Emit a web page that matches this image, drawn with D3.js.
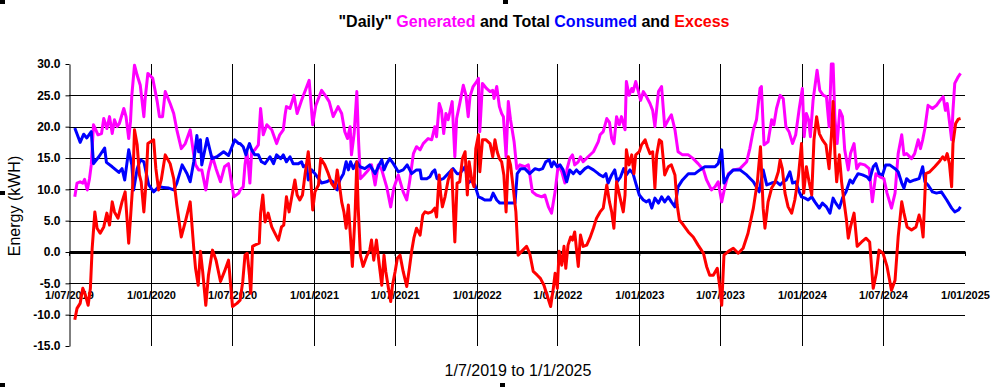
<!DOCTYPE html>
<html>
<head>
<meta charset="utf-8">
<script src="https://cdn.jsdelivr.net/npm/d3@7"></script>
<style>
  body { margin: 0; background: #fff; }
  svg { display: block; font-family: Arial, "Liberation Sans", sans-serif; }
</style>
</head>
<body>
<script>
// values; days are counted from 1/7/2019
const genDays = [13,18,25,31,35,41,46,50,55,59,65,73,78,85,91,97,102,108,113,123,128,134,138,141,147,153,160,168,171,177,188,198,203,210,216,227,235,242,252,261,272,280,284,291,298,307,313,322,330,340,349,358,370,381,
  384,391,395,399,402,406,410,417,425,430,436,444,455,466,473,481,485,488,496,505,512,522,532,539,547,554,567,577,584,593,604,612,619,625,631,634,640,646,650,654,662,672,679,687,694,702,713,722,729,739,750,758,765,773,780,
  788,795,806,814,821,825,831,836,841,846,851,860,866,870,877,885,891,896,900,907,915,919,922,928,937,945,951,954,960,966,971,975,981,986,991,999,1005,1012,1023,1031,1040,1049,1061,1068,1076,1083,1091,1098,1106,1113,1118,1124,1130,1135,1143,1148,1154,1165,1177,1188,
  1192,1199,1207,1213,1218,1223,1229,1235,1240,1248,1251,1257,1263,1266,1272,1278,1283,1289,1296,1304,1310,1315,1323,1330,1337,1345,1352,1360,1367,1377,1390,1401,1412,1424,1431,1442,1450,1457,1465,1472,1480,1491,1506,1521,1528,1536,1543,1551,1554,1560,1569,1577,1582,1588,
  1596,1603,1609,1616,1624,1631,1639,1646,1650,1655,1660,1664,1670,1679,1685,1693,1700,1706,1711,1715,1719,1724,1730,1736,1741,1749,1754,1762,1768,1775,1786,1796,1803,1811,1820,1829,1836,1846,1854,1861,1869,1874,1880,1891,1898,1906,1911,1916,1921,1928,1938,1947,1955,1962,1967,1971,1977,1981,1984,1988,1996,2001];
const genKwh = [8.8,11.0,11.2,11.0,11.6,9.9,11.7,13.9,20.3,19.7,18.7,18.9,21.3,19.7,21.6,18.9,21.1,20.0,20.5,22.9,21.6,18.1,20.8,25.0,29.8,28.2,26.6,21.6,24.5,28.5,27.7,24.0,21.6,21.6,25.6,23.7,22.1,19.5,16.5,17.3,19.5,15.5,13.9,13.1,13.1,9.9,12.8,15.2,13.3,11.2,13.6,14.1,8.8,9.4,
  9.9,10.4,13.9,16.0,14.4,11.0,16.0,16.3,17.1,22.9,18.7,20.3,19.5,17.3,18.7,19.5,21.9,23.2,22.9,25.0,22.1,24.2,26.1,27.4,20.3,23.4,25.8,24.8,24.0,21.6,23.2,22.1,19.2,18.1,20.0,15.5,18.9,25.6,17.6,11.7,12.3,13.1,13.9,10.7,13.9,13.1,10.4,7.2,10.2,12.3,9.6,8.3,11.5,15.7,16.8,
  16.3,17.3,18.1,17.9,20.0,18.4,23.7,22.6,18.9,22.1,21.1,24.0,15.2,21.3,23.7,26.6,25.0,21.6,24.8,26.4,27.2,27.7,19.2,26.9,26.1,25.6,25.8,24.5,26.4,23.2,22.1,21.6,15.2,24.0,21.1,17.6,13.3,13.9,13.6,13.9,9.6,9.1,8.8,9.1,7.2,6.2,9.6,13.9,12.8,11.0,13.3,14.9,15.5,13.9,14.4,15.2,14.4,15.2,16.0,17.6,
  18.7,19.2,21.3,20.7,18.1,17.3,21.6,20.3,21.6,19.5,27.2,25.0,26.1,25.6,27.2,25.6,24.2,25.6,24.8,23.7,22.6,20.0,25.6,26.4,20.0,21.1,21.9,19.5,16.0,15.5,15.5,14.9,14.1,13.1,11.5,9.9,10.4,11.2,8.0,10.4,12.5,13.1,13.3,14.4,16.5,19.5,21.1,26.1,26.4,17.1,17.6,21.1,20.3,22.9,
  25.0,24.5,20.0,19.2,17.3,18.7,22.9,26.1,18.4,22.1,21.1,18.4,24.2,29.0,25.8,25.0,24.8,20.0,30.0,30.0,21.3,17.3,22.6,21.6,16.3,13.1,15.7,17.3,13.3,14.1,13.9,13.3,8.0,12.5,12.0,11.7,9.4,7.0,9.4,15.7,18.7,15.5,15.7,14.9,15.7,17.9,16.5,17.9,19.7,23.4,22.9,23.4,24.2,24.8,22.6,23.7,20.3,17.9,22.6,26.9,28.0,28.5];

const conDays = [13,25,33,40,50,55,67,80,84,97,112,119,125,134,141,145,153,160,168,179,190,201,212,224,235,242,254,265,272,280,287,291,295,298,310,321,332,347,358,372,381,
  384,391,397,400,405,410,417,425,432,440,451,459,466,475,481,488,496,503,515,522,526,533,537,545,552,560,567,578,586,592,597,602,608,616,622,627,632,638,646,653,664,675,687,694,702,707,713,720,728,739,750,759,769,780,
  788,791,803,810,816,821,826,832,840,851,862,871,877,889,896,904,911,919,926,933,946,952,960,967,1001,1006,1014,1023,1034,1046,1055,1063,1070,1078,1083,1088,1096,1102,1109,1117,1124,1132,1139,1147,1158,1165,1177,1188,
  1192,1199,1205,1210,1218,1225,1230,1238,1245,1251,1259,1266,1272,1280,1289,1296,1302,1308,1315,1323,1330,1337,1345,1352,1360,1367,1377,1390,1405,1416,1427,1450,1457,1465,1470,1480,1491,1506,1521,1536,1549,1558,1566,1577,1588,
  1596,1603,1610,1618,1624,1631,1639,1644,1652,1659,1667,1674,1684,1691,1700,1708,1715,1721,1729,1736,1744,1753,1759,1764,1771,1781,1791,1797,1805,1811,1818,1826,1833,1842,1854,1861,1869,1874,1880,1887,1898,1908,1916,1921,1928,1938,1947,1958,1970,1981,1988,1996,2001];
const conKwh = [19.8,17.5,18.8,18.2,19.2,14.1,15.2,16.6,14.3,13.6,12.7,13.3,11.5,16.3,13.9,9.9,13.3,14.7,14.4,10.7,9.6,10.4,10.3,10.2,9.9,11.0,13.9,12.5,11.2,14.4,18.6,16.0,17.9,13.9,18.1,14.9,15.2,16.0,15.4,17.9,17.3,
  17.3,16.8,15.5,16.3,17.3,16.3,15.5,15.5,14.4,14.1,15.2,14.1,15.5,14.9,15.5,14.4,15.2,14.1,14.1,14.4,13.6,13.9,11.5,13.1,12.5,11.7,11.0,11.2,11.5,11.2,10.2,9.9,11.5,12.5,14.4,13.1,14.4,13.3,14.4,13.6,13.3,13.9,12.5,13.6,14.7,13.1,14.1,14.9,14.1,12.8,13.1,13.9,12.5,13.1,
  13.1,11.7,11.7,12.0,12.8,13.1,11.7,11.5,11.7,12.5,13.3,12.5,12.5,13.6,11.0,11.5,10.7,8.8,8.6,8.3,8.3,9.4,8.3,7.8,7.8,12.5,13.3,13.3,12.5,13.3,13.1,13.3,14.4,14.7,13.6,14.4,13.6,13.9,13.1,11.2,13.1,12.5,13.1,12.5,13.3,13.6,13.1,12.5,
  12.3,12.0,12.5,11.0,12.3,13.1,11.2,12.0,13.3,12.3,13.1,12.5,11.0,9.1,8.3,8.0,8.3,7.0,8.6,7.8,8.8,8.0,8.8,8.0,7.2,10.4,11.5,12.5,12.5,13.1,13.6,13.6,14.1,16.3,11.0,12.3,13.1,13.1,12.3,11.2,9.6,13.1,10.7,11.0,11.2,
  10.7,11.2,11.5,12.8,11.0,11.2,9.6,8.8,8.6,8.3,8.8,8.0,7.0,7.8,7.2,6.2,8.6,7.8,7.0,8.6,9.6,11.5,11.0,11.7,12.5,12.3,12.0,11.5,13.6,14.1,12.5,12.3,13.9,13.9,13.3,12.8,11.0,10.2,11.7,11.2,11.5,11.7,13.6,11.2,10.7,9.6,9.4,9.6,8.3,7.0,6.4,6.7,7.2];

const excDays = [13,18,25,31,37,43,48,52,58,63,70,78,85,91,97,102,110,119,126,134,138,143,147,153,158,162,168,173,177,190,195,201,207,216,227,235,242,252,261,272,280,284,290,295,300,307,313,322,330,340,349,358,367,377,
  384,390,395,400,405,408,412,417,427,430,435,440,447,455,462,470,477,482,488,494,500,507,512,518,524,530,537,542,547,552,560,565,574,582,589,597,602,607,612,617,622,627,631,636,642,646,649,654,660,668,675,679,684,690,696,702,707,711,717,722,726,732,737,743,750,758,764,769,774,780,
  788,794,799,806,814,821,825,831,834,838,844,851,859,866,871,877,883,889,894,898,904,909,913,919,922,928,936,945,951,956,961,966,971,976,981,986,991,997,1003,1008,1016,1027,1034,1042,1051,1058,1066,1073,1081,1087,1091,1096,1100,1106,1111,1115,1120,1126,1130,1135,1143,1148,1154,1162,1169,1177,1184,
  1192,1199,1207,1213,1218,1223,1229,1237,1244,1248,1251,1257,1263,1268,1272,1280,1285,1293,1298,1304,1310,1315,1319,1325,1330,1337,1345,1352,1360,1365,1370,1379,1390,1401,1412,1424,1431,1438,1446,1455,1461,1465,1470,1480,1491,1502,1513,1524,1536,1545,1552,1558,1562,1569,1577,1584,1592,
  1596,1601,1607,1614,1622,1629,1637,1644,1649,1655,1661,1667,1672,1678,1684,1691,1699,1706,1711,1715,1719,1723,1729,1734,1739,1745,1749,1754,1762,1769,1779,1789,1797,1805,1812,1818,1827,1836,1846,1854,1861,1869,1874,1881,1891,1901,1908,1913,1917,1923,1932,1943,1953,1961,1966,1971,1976,1981,1984,1990,1996,2001];
const excKwh = [-10.8,-9.0,-8.2,-5.8,-6.9,-8.5,-5.8,0.6,6.4,3.8,3.0,4.0,6.2,4.3,8.0,6.4,5.4,8.0,9.6,1.4,5.4,10.7,19.5,17.1,12.3,11.2,6.4,11.2,17.3,17.9,13.3,9.9,11.5,15.5,14.1,11.7,7.5,2.4,4.8,8.0,0.6,-2.6,-5.3,0.1,-3.1,-8.5,-3.7,0.3,-1.3,-4.7,-3.1,-1.3,-8.7,-8.2,
  -7.7,-4.7,-0.5,-0.2,-3.7,-6.6,0.9,1.1,1.4,6.2,9.1,4.8,6.2,4.0,3.0,1.9,4.0,4.3,8.8,6.4,8.8,11.5,9.1,8.3,9.1,12.5,16.0,12.3,6.7,9.6,10.7,14.9,13.9,12.5,11.0,10.2,13.1,10.7,8.0,6.4,3.8,7.5,3.2,-2.3,5.9,14.4,7.2,-0.5,-2.3,-0.7,0.3,1.9,-1.3,1.9,-1.8,-5.3,-0.5,-3.1,-5.8,-7.9,-5.3,-3.1,-1.0,-0.5,-3.1,-5.5,-2.6,0.1,2.2,3.8,
  2.7,5.9,6.4,6.2,6.4,7.0,5.6,12.3,9.4,7.2,8.8,11.5,13.1,1.6,11.0,11.2,14.9,16.0,9.1,14.4,11.5,10.4,16.5,18.7,12.8,17.9,17.9,17.3,15.2,17.9,16.0,14.9,14.4,12.3,6.4,15.2,13.9,10.2,6.4,-0.5,0.1,0.9,-0.2,-3.1,-3.7,-4.2,-5.3,-6.9,-8.7,-5.8,-3.4,-5.8,0.1,-2.1,0.9,-2.6,1.1,2.4,1.9,3.2,-2.3,2.7,0.9,1.1,2.2,3.8,5.4,
  6.4,7.0,10.7,8.0,6.4,3.8,11.2,8.6,6.4,9.1,16.3,13.9,15.5,12.5,15.5,16.0,17.1,17.9,16.8,15.7,16.0,10.2,15.5,17.9,17.6,12.3,13.6,13.9,12.3,7.5,5.1,4.3,3.2,2.4,1.1,-0.2,-2.3,-3.7,-3.7,-2.6,-5.8,-8.5,-0.5,0.1,0.6,-0.2,0.6,3.0,7.0,11.2,16.8,7.0,3.8,8.0,10.2,11.0,12.8,
  14.7,13.3,9.4,7.2,6.2,8.3,12.0,17.3,9.4,13.6,11.2,9.1,17.9,21.6,18.9,17.9,17.1,13.3,18.4,24.0,15.7,11.2,15.5,11.2,8.3,5.1,2.2,4.0,6.2,0.9,1.6,2.2,1.6,-5.8,-3.4,0.3,-0.2,-2.3,-6.1,-4.5,2.4,8.0,6.2,4.0,3.5,4.0,5.9,4.6,2.4,12.5,12.8,13.6,14.4,15.2,14.7,15.7,14.1,10.4,17.3,20.5,21.2,21.3];

const yTicks = [-15, -10, -5, 0, 5, 10, 15, 20, 25, 30];
const xTickLabels = ["1/07/2019", "1/01/2020", "1/07/2020", "1/01/2021", "1/07/2021", "1/01/2022",
  "1/07/2022", "1/01/2023", "1/07/2023", "1/01/2024", "1/07/2024", "1/01/2025"];

const start = new Date(2019, 6, 1);
const xTickDates = xTickLabels.map(d3.timeParse("%d/%m/%Y"));

const width = 1002, height = 387;
const plotLeft = 69, plotRight = 965, plotTop = 64, plotBottom = 346;

const svg = d3.select("body").append("svg")
    .attr("width", width)
    .attr("height", height);

const x = d3.scaleTime()
    .domain([start, xTickDates[xTickDates.length - 1]])
    .range([plotLeft, plotRight]);
const y = d3.scaleLinear()
    .domain([-15, 30])
    .range([plotBottom, plotTop]);

// grid
svg.append("g")
    .selectAll("line")
    .data(yTicks.filter(v => v !== 0 && v !== 30 && v !== -15))
    .join("line")
    .attr("x1", plotLeft).attr("x2", plotRight)
    .attr("y1", d => Math.round(y(d)) + 0.5).attr("y2", d => Math.round(y(d)) + 0.5)
    .attr("stroke", "#000").attr("stroke-width", 1);
svg.append("g")
    .selectAll("line")
    .data(xTickDates.slice(1, -1))
    .join("line")
    .attr("x1", d => Math.round(x(d)) + 0.5).attr("x2", d => Math.round(x(d)) + 0.5)
    .attr("y1", plotTop).attr("y2", plotBottom)
    .attr("stroke", "#000").attr("stroke-width", 1);

// y axis
const yAxis = svg.append("g")
    .attr("transform", `translate(${plotLeft + 0.5},0)`)
    .call(d3.axisLeft(y).tickValues(yTicks).tickFormat(d => d.toFixed(1))
        .tickSize(4).tickSizeOuter(0).tickPadding(5));
yAxis.selectAll("text")
    .attr("font-size", 12).attr("font-weight", "bold")
    .attr("font-family", "Arial, 'Liberation Sans', sans-serif").attr("fill", "#000");
yAxis.selectAll("line, path").attr("stroke", "#000");

// zero line with the date labels
const xAxis = svg.append("g")
    .attr("transform", `translate(0,${y(0)})`)
    .call(d3.axisBottom(x).tickValues(xTickDates).tickFormat((d, i) => xTickLabels[i])
        .tickSize(4).tickSizeOuter(0).tickPadding(35.5));
xAxis.select(".domain").attr("stroke", "#000").attr("stroke-width", 3);
xAxis.selectAll("line").attr("stroke", "#000");
xAxis.selectAll("text")
    .attr("font-size", 11).attr("font-weight", "bold")
    .attr("font-family", "Arial, 'Liberation Sans', sans-serif").attr("fill", "#000");

// series
const series = [
  { days: genDays, kwh: genKwh, color: "#ff00ff" },
  { days: conDays, kwh: conKwh, color: "#0000ff" },
  { days: excDays, kwh: excKwh, color: "#ff0000" }
];
const line = d3.line()
    .x(d => x(d[0]))
    .y(d => y(d[1]));
series.forEach(s => {
  const pts = s.days.map((d, i) => [d3.timeDay.offset(start, d), s.kwh[i]]);
  svg.append("path")
      .datum(pts)
      .attr("d", line)
      .attr("fill", "none")
      .attr("stroke", s.color)
      .attr("stroke-width", 3)
      .attr("stroke-linejoin", "round");
});

// titles
const title = svg.append("text")
    .attr("x", 534).attr("y", 27)
    .attr("text-anchor", "middle")
    .attr("font-size", 16).attr("font-weight", "bold");
[["\"Daily\" ", "#000"], ["Generated", "#ff00ff"], [" and Total ", "#000"],
 ["Consumed", "#0000ff"], [" and ", "#000"], ["Excess", "#ff0000"]].forEach(p => {
  title.append("tspan").attr("fill", p[1]).text(p[0]);
});

svg.append("text")
    .attr("transform", "translate(19.5,206) rotate(-90)")
    .attr("text-anchor", "middle")
    .attr("font-size", 16)
    .text("Energy (kWH)");

svg.append("text")
    .attr("x", 518).attr("y", 376)
    .attr("text-anchor", "middle")
    .attr("font-size", 16)
    .text("1/7/2019 to 1/1/2025");

// selection handles of the chart frame
svg.append("g")
    .selectAll("rect")
    .data([[0, 0], [503, 0], [0, 191], [0, 383], [500, 383]])
    .join("rect")
    .attr("x", d => d[0]).attr("y", d => d[1])
    .attr("width", 5).attr("height", 4)
    .attr("fill", "#000");
</script>
</body>
</html>
